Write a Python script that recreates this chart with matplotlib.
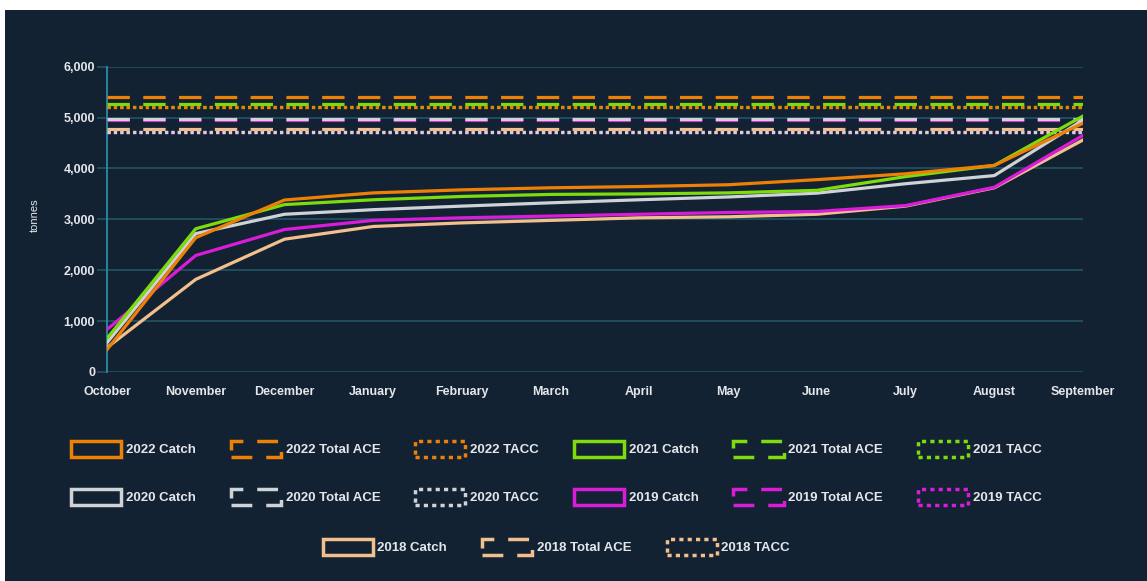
import matplotlib.pyplot as plt
from matplotlib.patches import Patch, Rectangle

plt.rcParams['font.family'] = ['Liberation Sans', 'DejaVu Sans']

months = ['October', 'November', 'December', 'January', 'February', 'March',
          'April', 'May', 'June', 'July', 'August', 'September']
years = ['2022', '2021', '2020', '2019', '2018']
colors = ['#ef8006', '#7cdc0c', '#cfd2d6', '#d91cd9', '#f2c08c']

catch_2022 = [440, 2640, 3380, 3520, 3580, 3620, 3645, 3680, 3780, 3895, 4060, 4890]
catch_2021 = [660, 2815, 3290, 3385, 3450, 3490, 3500, 3520, 3570, 3840, 4060, 5030]
catch_2020 = [575, 2720, 3100, 3190, 3260, 3325, 3385, 3440, 3515, 3700, 3860, 4950]
catch_2019 = [835, 2290, 2800, 2980, 3030, 3065, 3100, 3135, 3155, 3270, 3630, 4650]
catch_2018 = [480, 1820, 2610, 2860, 2930, 2980, 3030, 3050, 3100, 3260, 3620, 4560]
catches = [catch_2022, catch_2021, catch_2020, catch_2019, catch_2018]

total_ace = [5410, 5265, 4980, 4945, 4785]
tacc = [5200, 5200, 4720, 4720, 4720]

bg = '#132233'
grid_c = '#21505f'
axis_c = '#2b8ea3'
text_c = '#e4e6ea'

fig = plt.figure(figsize=(11.47, 5.81), dpi=100)
fig.patch.set_facecolor('white')
fig.patches.append(Rectangle((5 / 1147, 0), 1 - 5 / 1147, 1 - 10 / 581,
                             transform=fig.transFigure, facecolor=bg,
                             edgecolor='none', zorder=-10))

ax = fig.add_axes([107 / 1147, 1 - 372 / 581, 976 / 1147, 305.3 / 581])
ax.set_facecolor(bg)

x = list(range(len(months)))
lw = 2.3
handles = []
z = 100
for yr, col, c, ace, ta in zip(years, colors, catches, total_ace, tacc):
    ax.plot(x, c, color=col, lw=lw, zorder=z, solid_joinstyle='round')
    ax.plot(x, [ace] * len(x), color=col, lw=lw, ls=(0, (7, 4.2)),
            zorder=z - 1, dash_capstyle='butt')
    ax.plot(x, [ta] * len(x), color=col, lw=lw, ls=(0, (1, 1)),
            zorder=z - 2, dash_capstyle='butt')
    z -= 3
    handles.append(Patch(facecolor='none', edgecolor=col, lw=2.5, ls='-',
                         label=yr + ' Catch'))
    handles.append(Patch(facecolor='none', edgecolor=col, lw=2.5, ls=(0, (6, 4)),
                         label=yr + ' Total ACE'))
    handles.append(Patch(facecolor='none', edgecolor=col, lw=2.5, ls=(0, (1.2, 1.2)),
                         label=yr + ' TACC'))

ax.set_xlim(0, 11)
ax.set_ylim(0, 6000)
ax.set_yticks(range(0, 6001, 1000))
ax.set_yticklabels(['{:,}'.format(v) for v in range(0, 6001, 1000)])
ax.set_xticks(x)
ax.set_xticklabels(months)
ax.grid(axis='y', color=grid_c, lw=1.3)
ax.set_axisbelow(True)
for s in ['top', 'right', 'bottom']:
    ax.spines[s].set_visible(False)
ax.spines['left'].set_color(axis_c)
ax.spines['left'].set_linewidth(1.3)
ax.tick_params(axis='y', colors=grid_c, length=7.5, width=1.3, pad=1,
               labelcolor=text_c, labelsize=9)
ax.tick_params(axis='x', length=0, pad=10, labelcolor=text_c, labelsize=9)
for lab in ax.get_xticklabels() + ax.get_yticklabels():
    lab.set_fontweight('bold')
ax.set_ylabel('tonnes', color=text_c, fontsize=8)
ax.yaxis.set_label_coords(-0.069, 0.514)

rows = [handles[0:6], handles[6:12], handles[12:15]]
row_y = [1 - 449 / 581, 1 - 497 / 581, 1 - 547 / 581]
for hs, yy in zip(rows, row_y):
    leg = fig.legend(handles=hs, loc='center', bbox_to_anchor=(0.485, yy),
                     ncol=len(hs), frameon=False, fontsize=9.5,
                     handlelength=3.8, handleheight=1.45, handletextpad=0.35,
                     columnspacing=2.65, borderaxespad=0)
    for t in leg.get_texts():
        t.set_color(text_c)
        t.set_fontweight('bold')

fig.savefig('out.png', dpi=100, facecolor=fig.get_facecolor())
